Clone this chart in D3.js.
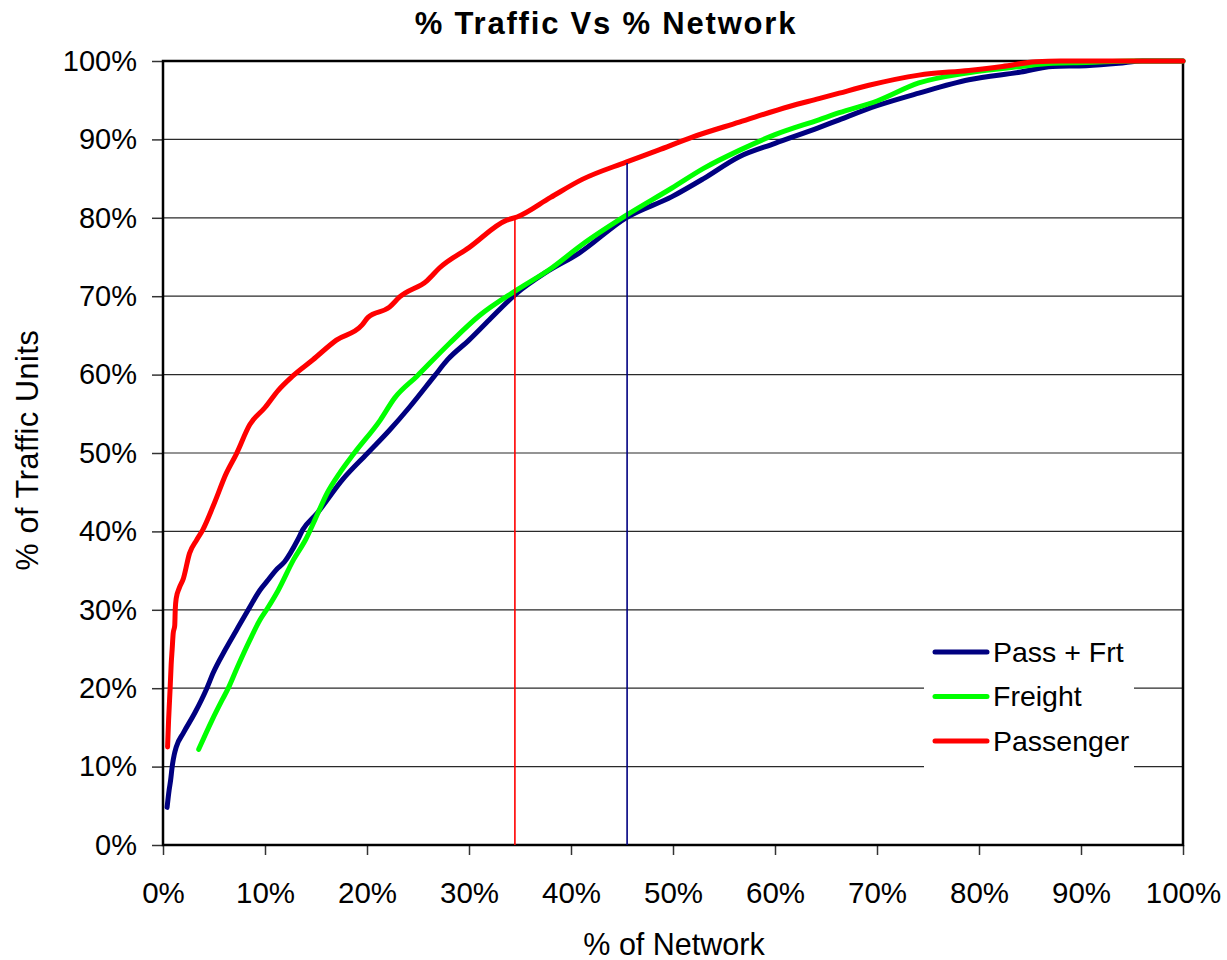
<!DOCTYPE html>
<html>
<head>
<meta charset="utf-8">
<script src="https://cdn.jsdelivr.net/npm/d3@7"></script>
<style>
  html, body { margin: 0; padding: 0; background: #fff; }
  svg { display: block; font-family: "Liberation Sans", Arial, sans-serif; }
</style>
</head>
<body>
<svg id="chart" width="1227" height="960"></svg>
<script>
// ---- Data (percent values) ----
const passFrtX = [0.4, 0.6, 0.75, 0.9, 1.1, 1.3, 2.0, 3.1, 4.3, 4.9, 6.1, 7.2, 8.4, 9.5, 10.3, 11.1, 11.9, 13.2, 13.7, 15.1, 17.6, 20, 22.2, 24.2, 26.6, 27.9, 30, 32, 34.7, 37.5, 40.8, 45.4, 49.9, 53, 56.5, 60, 64.3, 66.3, 70, 74.1, 79, 84.1, 87.2, 90.5, 93.7, 96, 100];
const passFrtY = [4.8, 7, 8.3, 10, 11.5, 12.5, 14.3, 16.8, 20, 21.9, 24.9, 27.4, 30.1, 32.5, 33.8, 35.1, 36.1, 38.9, 40.2, 42.3, 46.6, 49.9, 52.9, 55.9, 59.8, 61.9, 64.4, 67, 70.4, 73, 75.5, 80, 82.7, 85, 87.8, 89.5, 91.5, 92.5, 94.3, 95.9, 97.6, 98.6, 99.3, 99.4, 99.7, 100, 100];

const freightX = [3.5, 4.8, 5.8, 6.4, 7.3, 8.5, 9.5, 10.2, 11.3, 12.8, 14.0, 14.9, 16.1, 17.3, 18.7, 21.3, 22.7, 24.9, 28.1, 31, 34.7, 38, 41, 45.4, 49.9, 53, 56.5, 60, 64.3, 66.3, 70, 74.1, 79, 84.1, 87.2, 90.5, 95, 100];
const freightY = [12.2, 15.9, 18.5, 20, 22.7, 26.1, 28.7, 30.1, 32.5, 36.4, 39, 41.5, 44.9, 47.4, 49.9, 54.2, 57, 59.8, 64, 67.5, 70.8, 73.5, 76.5, 80.3, 83.8, 86.3, 88.6, 90.6, 92.5, 93.4, 94.9, 97.2, 98.5, 99.3, 99.7, 99.8, 100, 100];

const passengerX = [0.45, 0.55, 0.7, 0.8, 0.9, 1.0, 1.15, 1.2, 1.3, 1.6, 2.0, 2.6, 3.3, 3.9, 5.0, 6.2, 7.2, 8.5, 10, 11.3, 12.7, 14.7, 17, 19.5, 20.1, 22.2, 23.2, 25.9, 27.1, 30, 33.7, 34.7, 38, 41.1, 45.4, 48.5, 51.9, 56.5, 61.4, 64.3, 66.3, 69.2, 74.1, 79, 82.3, 85.6, 88, 100];
const passengerY = [12.5, 16, 20, 23, 25, 27, 28, 30, 31.5, 32.8, 34, 37.2, 38.9, 40.2, 43.5, 47.4, 49.9, 53.6, 55.8, 58, 59.8, 61.9, 64.4, 66.3, 67.3, 68.6, 69.9, 72, 73.6, 76.2, 79.7, 80.1, 82.6, 84.9, 87.1, 88.6, 90.3, 92.2, 94.2, 95.2, 95.9, 96.9, 98.2, 98.8, 99.3, 99.9, 100, 100];

// reference lines: [x, top value]
const markerX = [34.5, 45.5];
const markerTop = [80, 87];

const seriesNames = ["Pass + Frt", "Freight", "Passenger"];
const seriesColors = ["#000080", "#00ff00", "#ff0000"];
const tickValues = [0, 10, 20, 30, 40, 50, 60, 70, 80, 90, 100];
const tickLabels = ["0%", "10%", "20%", "30%", "40%", "50%", "60%", "70%", "80%", "90%", "100%"];

const titleText = "% Traffic Vs % Network";
const xTitle = "% of Network";
const yTitle = "% of Traffic Units";

// ---- Layout ----
const L = 163, R = 1183, T = 61, B = 845;
const svg = d3.select("#chart");
const x = d3.scaleLinear().domain([0, 100]).range([L, R]);
const y = d3.scaleLinear().domain([0, 100]).range([B, T]);

// gridlines
svg.append("g")
  .selectAll("line").data(tickValues.filter(v => v > 0)).join("line")
  .attr("x1", L).attr("x2", R)
  .attr("y1", d => y(d)).attr("y2", d => y(d))
  .attr("stroke", "#2a2a2a").attr("stroke-width", 1.2);

// Y axis
const yAxis = d3.axisLeft(y).tickValues(tickValues)
  .tickFormat((d, i) => tickLabels[i]).tickSize(11).tickPadding(15);
const gy = svg.append("g").attr("transform", `translate(${L},0)`).call(yAxis);
gy.select(".domain").remove();
gy.selectAll(".tick line").attr("stroke", "#333").attr("stroke-width", 1.5);
gy.selectAll(".tick text").attr("font-size", 29).attr("fill", "#000")
  .attr("font-family", "Liberation Sans, Arial, sans-serif");

// X axis
const xAxis = d3.axisBottom(x).tickValues(tickValues)
  .tickFormat((d, i) => tickLabels[i]).tickSize(10).tickPadding(27);
const gx = svg.append("g").attr("transform", `translate(0,${B})`).call(xAxis);
gx.select(".domain").remove();
gx.selectAll(".tick line").attr("stroke", "#333").attr("stroke-width", 1.5);
gx.selectAll(".tick text").attr("font-size", 29.5).attr("fill", "#000")
  .attr("font-family", "Liberation Sans, Arial, sans-serif");

// plot border
svg.append("rect").attr("x", L).attr("y", T).attr("width", R - L).attr("height", B - T)
  .attr("fill", "none").attr("stroke", "#000").attr("stroke-width", 2.5);

// series
const line = d3.line().x(d => x(d[0])).y(d => y(d[1])).curve(d3.curveMonotoneX);
const seriesData = [
  d3.zip(passFrtX, passFrtY),
  d3.zip(freightX, freightY),
  d3.zip(passengerX, passengerY)
];
seriesData.forEach((pts, i) => {
  svg.append("path").datum(pts)
    .attr("d", line)
    .attr("fill", "none")
    .attr("stroke", seriesColors[i])
    .attr("stroke-width", 5)
    .attr("stroke-linecap", "round")
    .attr("stroke-linejoin", "round");
});

// vertical marker lines
const markerColors = ["#ff0000", "#000080"];
markerX.forEach((mx, i) => {
  svg.append("line")
    .attr("x1", x(mx)).attr("x2", x(mx))
    .attr("y1", y(markerTop[i])).attr("y2", y(0))
    .attr("stroke", markerColors[i]).attr("stroke-width", 1.6);
});

// legend
const lg = svg.append("g");
lg.append("rect").attr("x", 924).attr("y", 628).attr("width", 210).attr("height", 143).attr("fill", "#fff");
seriesNames.forEach((name, i) => {
  const ly = 652 + i * 44.5;
  lg.append("line").attr("x1", 935).attr("x2", 987).attr("y1", ly).attr("y2", ly)
    .attr("stroke", seriesColors[i]).attr("stroke-width", 5).attr("stroke-linecap", "round");
  lg.append("text").attr("x", 993).attr("y", ly + 9.5)
    .attr("font-size", 28.5).attr("fill", "#000").text(name);
});

// titles
svg.append("text").attr("x", 606).attr("y", 34).attr("text-anchor", "middle")
  .attr("font-size", 31).attr("font-weight", "bold").attr("letter-spacing", 1.8).text(titleText);
svg.append("text").attr("x", 674).attr("y", 955).attr("text-anchor", "middle")
  .attr("font-size", 30.5).text(xTitle);
svg.append("text").attr("transform", "translate(38,450) rotate(-90)").attr("text-anchor", "middle")
  .attr("font-size", 30.5).attr("letter-spacing", 0.6).text(yTitle);
</script>
</body>
</html>
